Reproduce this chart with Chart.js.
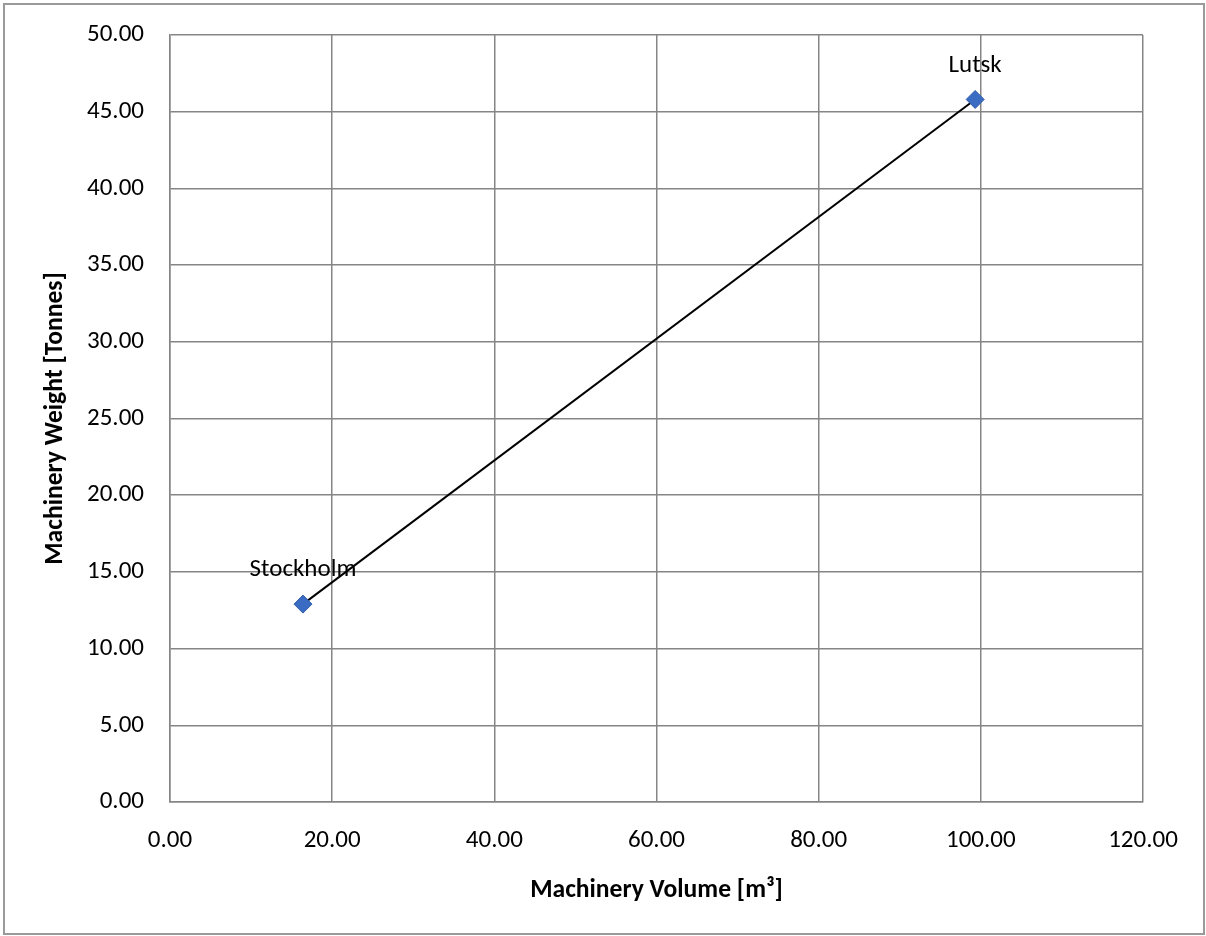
<!DOCTYPE html>
<html>
<head>
<meta charset="utf-8">
<script src="https://cdn.jsdelivr.net/npm/chart.js@4"></script>
<style>
  html, body { margin: 0; padding: 0; background: #ffffff; }
  #wrap { width: 1206px; height: 936px; position: relative; }
</style>
</head>
<body>
<div id="wrap"><canvas id="machineryChart"></canvas></div>
<script>
// data
const siteNames = ['Stockholm', 'Lutsk'];
const volumeValues = [16.4, 99.3];
const weightValues = [12.9, 45.8];
const xTicks = [0, 20, 40, 60, 80, 100, 120];
const yTicks = [0, 5, 10, 15, 20, 25, 30, 35, 40, 45, 50];

const points = siteNames.map((name, i) => ({ x: volumeValues[i], y: weightValues[i], name: name }));

const fontFamily = "Carlito, 'Open Sans', 'Liberation Sans', sans-serif";

// frame around the whole chart area
const frame = {
    id: 'frame',
    beforeDraw(chart) {
        const ctx = chart.ctx;
        ctx.save();
        ctx.fillStyle = '#ffffff';
        ctx.fillRect(0, 0, chart.width, chart.height);
        ctx.strokeStyle = '#9a9a9a';
        ctx.lineWidth = 2;
        ctx.strokeRect(4, 4, chart.width - 6, chart.height - 6);
        ctx.restore();
    }
};

// point name labels above the markers
const pointLabels = {
    id: 'pointLabels',
    afterDatasetsDraw(chart) {
        const ctx = chart.ctx;
        const meta = chart.getDatasetMeta(0);
        ctx.save();
        ctx.font = '25px ' + fontFamily;
        ctx.fillStyle = '#000000';
        ctx.textAlign = 'center';
        ctx.textBaseline = 'middle';
        meta.data.forEach((el, i) => {
            ctx.fillText(siteNames[i], el.x, el.y - 34);
        });
        ctx.restore();
    }
};

new Chart(document.getElementById('machineryChart'), {
    type: 'scatter',
    data: {
        datasets: [{
            label: 'Machinery',
            data: points,
            showLine: true,
            borderColor: '#000000',
            borderWidth: 2,
            pointStyle: 'rectRot',
            pointRadius: 9,
            pointHoverRadius: 9,
            pointBackgroundColor: '#3b6cc4',
            pointBorderColor: '#2f5ba8',
            pointBorderWidth: 1
        }]
    },
    options: {
        responsive: true,
        maintainAspectRatio: false,
        animation: false,
        layout: {
            padding: { top: 35, right: 63, left: 30, bottom: 20 }
        },
        plugins: {
            legend: { display: false },
            tooltip: { enabled: false }
        },
        scales: {
            x: {
                type: 'linear',
                min: 0,
                max: 120,
                afterBuildTicks: (scale) => { scale.ticks = xTicks.map(v => ({ value: v })); },
                afterFit: (scale) => { scale.height = 114; },
                grid: { color: '#858585', lineWidth: 1.5, drawTicks: false },
                border: { color: '#858585', width: 1.5 },
                ticks: {
                    color: '#000000',
                    padding: 24,
                    font: { family: fontFamily, size: 25 },
                    callback: (v) => Number(v).toFixed(2)
                },
                title: {
                    display: true,
                    text: 'Machinery Volume [m³]',
                    color: '#000000',
                    font: { family: fontFamily, size: 25.6, weight: 'bold' },
                    padding: 10
                }
            },
            y: {
                type: 'linear',
                min: 0,
                max: 50,
                afterBuildTicks: (scale) => { scale.ticks = yTicks.map(v => ({ value: v })); },
                afterFit: (scale) => { scale.width = 140; scale.paddingTop = 0; scale.paddingBottom = 0; },
                grid: { color: '#858585', lineWidth: 1.5, drawTicks: false },
                border: { color: '#858585', width: 1.5 },
                ticks: {
                    color: '#000000',
                    padding: 26,
                    font: { family: fontFamily, size: 25 },
                    callback: (v) => Number(v).toFixed(2)
                },
                title: {
                    display: true,
                    text: 'Machinery Weight [Tonnes]',
                    color: '#000000',
                    font: { family: fontFamily, size: 25.6, weight: 'bold' },
                    padding: 10
                }
            }
        }
    },
    plugins: [frame, pointLabels]
});
</script>
</body>
</html>
